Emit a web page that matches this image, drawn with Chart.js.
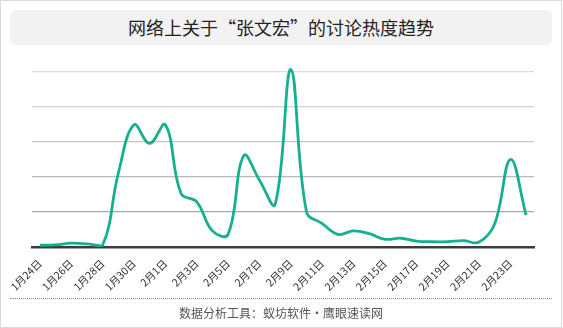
<html>
    <head>
        <meta charset="utf-8">
        <script src="https://cdnjs.cloudflare.com/ajax/libs/Chart.js/4.4.0/chart.umd.min.js"></script>
        <style>
            body { margin: 0; background: #fff; font-family: "Noto Sans CJK SC", "Noto Sans", sans-serif; }
            #frame { position: relative; width: 562px; height: 328px; box-sizing: border-box; border: 1px solid #d9d9d9; overflow: hidden; }
            #heat { position: absolute; left: -1px; top: -1px; }
            #title { position: absolute; left: 9px; top: 9px; width: 542px; height: 35px; line-height: 35px; background: #f2f2f2; border-radius: 6px; text-align: center; font-size: 18px; color: #222; }
            #footer { position: absolute; left: 9px; top: 297px; width: 542px; height: 28px; line-height: 28px; border-top: 1px dotted #888; text-align: center; font-size: 12px; color: #555; }
        </style>
    </head>
    <body>
        <div id="frame">
            <canvas id="heat" width="563" height="328"></canvas>
            <div id="title">网络上关于“张文宏”的讨论热度趋势</div>
            <div id="footer">数据分析工具：蚁坊软件·鹰眼速读网</div>
        </div>
        <script>
            // one point per day, 1月24日 .. 2月24日
            const DAYS = ["1月24日", "1月25日", "1月26日", "1月27日", "1月28日", "1月29日", "1月30日", "1月31日",
                          "2月1日", "2月2日", "2月3日", "2月4日", "2月5日", "2月6日", "2月7日", "2月8日",
                          "2月9日", "2月10日", "2月11日", "2月12日", "2月13日", "2月14日", "2月15日", "2月16日",
                          "2月17日", "2月18日", "2月19日", "2月20日", "2月21日", "2月22日", "2月23日", "2月24日"];
            // discussion heat index
            const HEAT = [50, 60, 110, 90, 50, 2100, 3490, 2960,
                          3490, 1530, 1290, 460, 360, 2610, 1910, 1220,
                          5070, 1000, 670, 360, 460, 380, 220, 250,
                          170, 150, 150, 180, 140, 670, 2500, 910];
            const Y_MAX = 5200;
            const Y_GRID = [0, 1000, 2000, 3000, 4000, 5000];

            // one colour per gridline; the 0 line sits under the axis
            // gridlines get darker towards the axis
            const GRID_COLOURS = ["rgba(0,0,0,0)", "#a9a9a9", "#b9b9b9", "#c6c6c6", "#d2d2d2", "#dcdcdc"];

            const FONT = "'Noto Sans CJK SC', 'Noto Sans', sans-serif";

            new Chart(document.getElementById("heat"), {
                type: "line",
                data: {
                    labels: DAYS,
                    datasets: [{
                        data: HEAT,
                        borderColor: "#14b08f",
                        borderWidth: 2.8,
                        pointRadius: 0,
                        tension: 0.4,
                        fill: false
                    }]
                },
                options: {
                    responsive: false,
                    animation: false,
                    layout: { padding: { top: 65, left: 32, right: 29, bottom: 0 } },
                    plugins: { legend: { display: false }, tooltip: { enabled: false } },
                    scales: {
                        x: {
                            offset: true,
                            grid: { display: false },
                            border: { display: true, color: "#3c3c3c", width: 2.5 },
                            ticks: {
                                autoSkip: false,
                                maxRotation: 45,
                                minRotation: 45,
                                padding: 2,
                                color: "#333",
                                font: { family: FONT, size: 10.5 },
                                callback: (v, i) => i % 2 === 0 ? DAYS[i] : ""
                            },
                            afterFit: s => { s.height = 81; }
                        },
                        y: {
                            min: 0,
                            max: Y_MAX,
                            ticks: { display: false },
                            border: { display: false },
                            grid: {
                                drawTicks: false,
                                lineWidth: 1.2,
                                color: GRID_COLOURS
                            },
                            afterBuildTicks: s => { s.ticks = Y_GRID.map(v => ({ value: v })); },
                            afterFit: s => { s.width = 0; }
                        }
                    }
                }
            });
        </script>
    </body>
</html>
